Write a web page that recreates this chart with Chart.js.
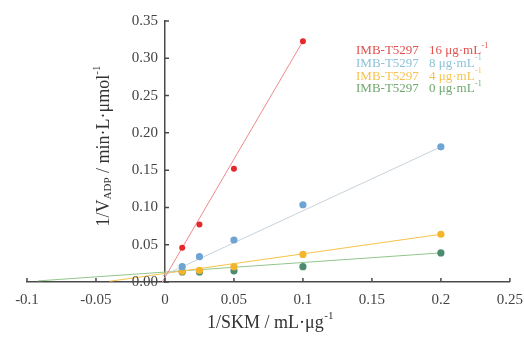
<!DOCTYPE html>
<html>
<head>
<meta charset="utf-8">
<script src="https://cdn.jsdelivr.net/npm/chart.js@4.4.1/dist/chart.umd.min.js"></script>
<style>
  html, body { margin: 0; padding: 0; background: #fff; }
</style>
</head>
<body>
<canvas id="canvas" width="524" height="338"></canvas>
<script>
// legend text
var seriesNames = ["IMB-T5297", "IMB-T5297", "IMB-T5297", "IMB-T5297"];
var concLabels = ["16 μg·mL", "8 μg·mL", "4 μg·mL", "0 μg·mL"];

// measured points (1/SKM, 1/V)
var xRed = [0.0125, 0.025, 0.05, 0.1];
var yRed = [0.046, 0.077, 0.152, 0.323];
var xBlue = [0.0125, 0.025, 0.05, 0.1, 0.2];
var yBlue = [0.0205, 0.034, 0.0563, 0.1036, 0.1813];
var xYellow = [0.0125, 0.025, 0.05, 0.1, 0.2];
var yYellow = [0.0145, 0.0155, 0.0205, 0.037, 0.064];
var xGreen = [0.0125, 0.025, 0.05, 0.1, 0.2];
var yGreen = [0.0135, 0.0135, 0.015, 0.0205, 0.039];

// fitted lines, end points
var lineRedX = [-0.002, 0.1];
var lineRedY = [0, 0.323];
var lineBlueX = [-0.002, 0.2];
var lineBlueY = [0.008, 0.1813];
var lineYellowX = [-0.04, 0.2];
var lineYellowY = [0.001, 0.064];
var lineGreenX = [-0.092, 0.2];
var lineGreenY = [0.0015, 0.039];

// ticks
var xTickValues = [-0.1, -0.05, 0, 0.05, 0.1, 0.15, 0.2, 0.25];
var xTickLabels = ["-0.1", "-0.05", "0", "0.05", "0.1", "0.15", "0.2", "0.25"];
var yTickValues = [0, 0.05, 0.1, 0.15, 0.2, 0.25, 0.3, 0.35];
var yTickLabels = ["0.00", "0.05", "0.10", "0.15", "0.20", "0.25", "0.30", "0.35"];

var pointColors = ["#e5282c", "#6ea4d4", "#f4b52c", "#4d8b6e"];
var lineColors = ["#f08a8a", "#c6d3dc", "#f5c24a", "#93c58e"];
var legendColors = ["#e0514f", "#8cc3da", "#f6c350", "#70a870"];

var FONT = "'Liberation Serif', 'Times New Roman', serif";
var AXIS = "#4a4a4a";

function pts(xs, ys) {
    var out = [];
    for (var i = 0; i < xs.length; i++) out.push({ x: xs[i], y: ys[i] });
    return out;
}

var pointSets = [[xRed, yRed], [xBlue, yBlue], [xYellow, yYellow], [xGreen, yGreen]];
var lineSets = [[lineRedX, lineRedY], [lineBlueX, lineBlueY], [lineYellowX, lineYellowY], [lineGreenX, lineGreenY]];

var datasets = [];
for (var i = 0; i < 4; i++) {
    datasets.push({
        label: seriesNames[i] + " " + concLabels[i],
        data: pts(pointSets[i][0], pointSets[i][1]),
        showLine: false,
        pointRadius: i == 0 ? 3 : 3.6,
        pointBackgroundColor: pointColors[i],
        pointBorderWidth: 0,
        order: 0
    });
}
for (var i = 0; i < 4; i++) {
    datasets.push({
        label: "fit " + i,
        data: pts(lineSets[i][0], lineSets[i][1]),
        showLine: true,
        borderColor: lineColors[i],
        borderWidth: 1,
        pointRadius: 0,
        order: 1
    });
}

// draw the text with a -1 superscript at the end
function supText(ctx, text, x, y, size, align) {
    ctx.font = size + "px " + FONT;
    var w1 = ctx.measureText(text).width;
    ctx.font = Math.round(size * 0.62) + "px " + FONT;
    var w2 = ctx.measureText("-1").width;
    var sx = align == "center" ? x - (w1 + w2) / 2 : x;
    ctx.textAlign = "left";
    ctx.font = size + "px " + FONT;
    ctx.fillText(text, sx, y);
    ctx.font = Math.round(size * 0.62) + "px " + FONT;
    ctx.fillText("-1", sx + w1 + 0.5, y - size * 0.38);
}

var decor = {
    id: "decor",
    afterDraw: function (chart) {
        var ctx = chart.ctx;
        var xs = chart.scales.x, ys = chart.scales.y;
        var x0 = xs.getPixelForValue(0);
        var yb = ys.getPixelForValue(0);
        ctx.save();
        // inward tick marks
        ctx.strokeStyle = AXIS;
        ctx.lineWidth = 1.5;
        ctx.beginPath();
        xTickValues.forEach(function (v) {
            var px = xs.getPixelForValue(v);
            ctx.moveTo(px, yb);
            ctx.lineTo(px, yb - 4);
        });
        yTickValues.forEach(function (v) {
            var py = ys.getPixelForValue(v);
            ctx.moveTo(x0, py);
            ctx.lineTo(x0 + 4, py);
        });
        ctx.stroke();

        // y tick labels, left of the axis that sits at x = 0
        ctx.fillStyle = "#444";
        ctx.font = "15px " + FONT;
        ctx.textAlign = "right";
        ctx.textBaseline = "middle";
        yTickValues.forEach(function (v, i) {
            ctx.fillText(yTickLabels[i], x0 - 7, ys.getPixelForValue(v));
        });

        // legend
        ctx.textBaseline = "middle";
        for (var i = 0; i < 4; i++) {
            var ty = 50.5 + i * 12.8;
            ctx.fillStyle = legendColors[i];
            ctx.textAlign = "left";
            ctx.font = "13px " + FONT;
            ctx.fillText(seriesNames[i], 356, ty);
            supText(ctx, concLabels[i], 429, ty, 13, "left");
        }

        // x title
        ctx.fillStyle = "#333";
        ctx.textBaseline = "middle";
        supText(ctx, "1/SKM / mL·μg", 270, 323, 18, "center");

        // y title
        ctx.translate(104, 146);
        ctx.rotate(-Math.PI / 2);
        var parts = [["1/V", 18, 0], ["ADP", 11, 4], [" / min·L·μmol", 18, 0], ["-1", 11, -7]];
        var total = 0;
        parts.forEach(function (p) {
            ctx.font = p[1] + "px " + FONT;
            total += ctx.measureText(p[0]).width;
        });
        var cx = -total / 2;
        ctx.textAlign = "left";
        parts.forEach(function (p) {
            ctx.font = p[1] + "px " + FONT;
            ctx.fillText(p[0], cx, p[2]);
            cx += ctx.measureText(p[0]).width;
        });
        ctx.restore();
    }
};

window.onload = function () {
    var ctx = document.getElementById("canvas").getContext("2d");
    window.myChart = new Chart(ctx, {
        type: "scatter",
        data: { datasets: datasets },
        options: {
            responsive: false,
            animation: false,
            layout: { padding: { left: 27, right: 8, top: 21, bottom: 0 } },
            plugins: {
                legend: { display: false },
                tooltip: { enabled: false }
            },
            scales: {
                x: {
                    type: "linear",
                    position: "bottom",
                    min: -0.1,
                    max: 0.25,
                    afterBuildTicks: function (s) {
                        s.ticks = xTickValues.map(function (v) { return { value: v }; });
                    },
                    afterFit: function (s) { s.height = 56; },
                    grid: { display: false },
                    border: { display: true, color: AXIS, width: 1.5 },
                    ticks: {
                        padding: 1,
                        color: "#444",
                        font: { family: FONT, size: 15 },
                        callback: function (v, i) { return xTickLabels[i]; }
                    }
                },
                y: {
                    type: "linear",
                    position: { x: 0 },
                    min: 0,
                    max: 0.35,
                    afterBuildTicks: function (s) {
                        s.ticks = yTickValues.map(function (v) { return { value: v }; });
                    },
                    grid: { display: false },
                    border: { display: true, color: AXIS, width: 1.5 },
                    ticks: { display: false }
                }
            }
        },
        plugins: [decor]
    });
};
</script>
</body>
</html>
